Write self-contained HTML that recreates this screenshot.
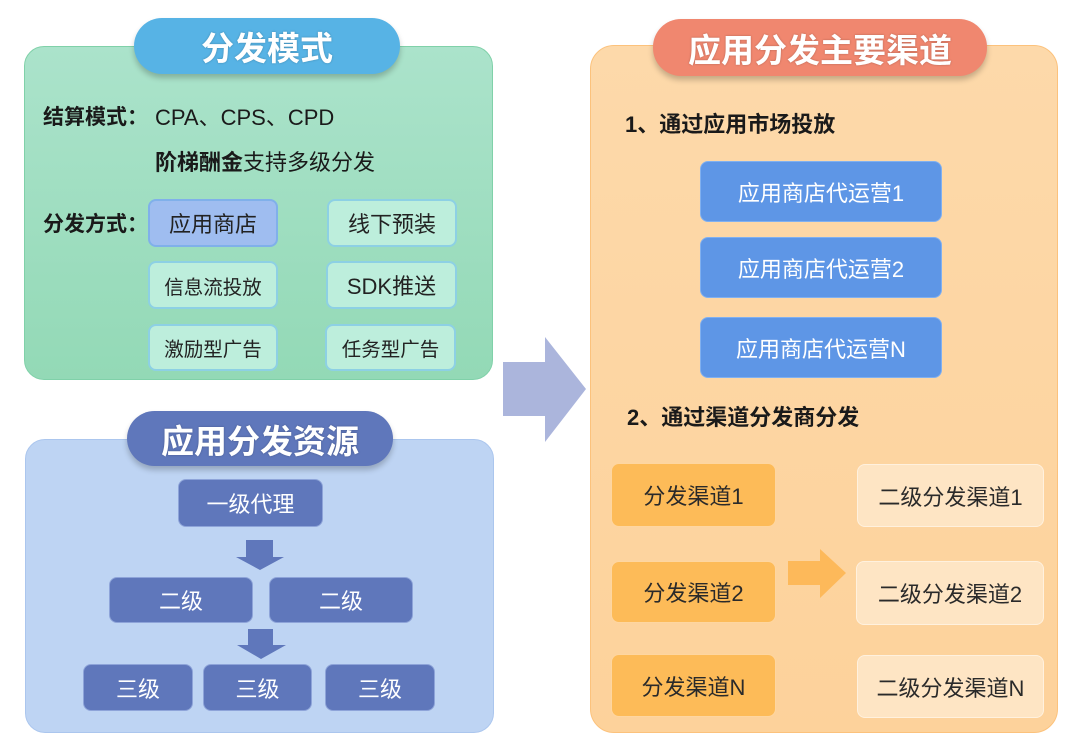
<!DOCTYPE html>
<html><head><meta charset="utf-8">
<style>
*{margin:0;padding:0;box-sizing:border-box;}
body{width:1080px;height:747px;background:#fff;position:relative;overflow:hidden;font-family:"Liberation Sans","Noto Sans CJK SC",sans-serif;}
.a{position:absolute;}
.box{position:absolute;display:flex;align-items:center;justify-content:center;border-radius:8px;white-space:nowrap;}
.pill{position:absolute;display:flex;align-items:center;justify-content:center;color:#fff;font-weight:bold;font-size:33px;box-shadow:0 4px 6px rgba(0,0,0,0.22);text-shadow:0 0 2px rgba(0,0,0,0.25);white-space:nowrap;}
.t{position:absolute;white-space:nowrap;color:#1a1a1a;}
.g{background:#bdeedc;border:2px solid #8dd0e4;color:#222;font-size:22px;}
.bl{background:#5f77bb;border:1.5px solid #8ea4d9;color:#fff;font-size:22px;}
.bb{background:#5e96e6;border:1.5px solid #80b0f0;color:#fff;font-size:22px;}
.ob{background:#fdbb58;border:1.5px solid #fed6a0;color:#2a2a2a;font-size:22px;}
.lb{background:#fee5c4;border:1.5px solid #fff1de;color:#2a2a2a;font-size:22px;}
</style></head><body>

<!-- Green panel -->
<div class="a" style="left:24px;top:46px;width:469px;height:334px;border-radius:20px;background:linear-gradient(#abe3cb,#93d9b6);border:1.5px solid #80d1a9;"></div>
<div class="pill" style="left:134px;top:18px;width:266px;height:56px;border-radius:28px;background:#57b3e5;">分发模式</div>
<div class="t" style="left:43px;top:105px;font-size:21px;line-height:26px;font-weight:bold;">结算模式：</div>
<div class="t" style="left:155px;top:104px;font-size:22px;line-height:28px;">CPA、CPS、CPD</div>
<div class="t" style="left:155px;top:149px;font-size:22px;line-height:28px;"><b>阶梯酬金</b>支持多级分发</div>
<div class="t" style="left:43px;top:212px;font-size:21px;line-height:26px;font-weight:bold;">分发方式：</div>
<div class="box g" style="left:148px;top:199px;width:130px;height:48px;background:#9fbdf0;border-color:#80b0ea;">应用商店</div>
<div class="box g" style="left:327px;top:199px;width:130px;height:48px;">线下预装</div>
<div class="box g" style="left:148px;top:261px;width:130px;height:48px;font-size:19.5px;">信息流投放</div>
<div class="box g" style="left:326px;top:261px;width:131px;height:48px;">SDK推送</div>
<div class="box g" style="left:148px;top:324px;width:130px;height:47px;font-size:19.5px;">激励型广告</div>
<div class="box g" style="left:325px;top:324px;width:131px;height:47px;font-size:19.5px;">任务型广告</div>

<!-- Blue panel -->
<div class="a" style="left:25px;top:439px;width:469px;height:294px;border-radius:20px;background:#bed4f3;border:1.5px solid #abc6ee;"></div>
<div class="pill" style="left:127px;top:411px;width:266px;height:55px;border-radius:28px;background:#5f77bb;">应用分发资源</div>
<div class="box bl" style="left:178px;top:479px;width:145px;height:48px;">一级代理</div>
<div class="box bl" style="left:109px;top:577px;width:144px;height:46px;">二级</div>
<div class="box bl" style="left:269px;top:577px;width:144px;height:46px;">二级</div>
<div class="box bl" style="left:83px;top:664px;width:110px;height:47px;">三级</div>
<div class="box bl" style="left:203px;top:664px;width:109px;height:47px;">三级</div>
<div class="box bl" style="left:325px;top:664px;width:110px;height:47px;">三级</div>

<!-- Orange panel -->
<div class="a" style="left:590px;top:45px;width:468px;height:688px;border-radius:24px;background:linear-gradient(#fdd9aa,#fdd29b);border:1.5px solid #fcc27c;"></div>
<div class="pill" style="left:653px;top:19px;width:334px;height:57px;border-radius:28px;background:#f0876f;">应用分发主要渠道</div>
<div class="t" style="left:625px;top:111px;font-size:22px;line-height:28px;font-weight:bold;">1、通过应用市场投放</div>
<div class="box bb" style="left:700px;top:161px;width:242px;height:61px;">应用商店代运营1</div>
<div class="box bb" style="left:700px;top:237px;width:242px;height:61px;">应用商店代运营2</div>
<div class="box bb" style="left:700px;top:317px;width:242px;height:61px;">应用商店代运营N</div>
<div class="t" style="left:627px;top:404px;font-size:22px;line-height:28px;font-weight:bold;">2、通过渠道分发商分发</div>
<div class="box ob" style="left:611px;top:463px;width:165px;height:64px;">分发渠道1</div>
<div class="box ob" style="left:611px;top:561px;width:165px;height:62px;">分发渠道2</div>
<div class="box ob" style="left:611px;top:654px;width:165px;height:63px;">分发渠道N</div>
<div class="box lb" style="left:857px;top:464px;width:187px;height:63px;">二级分发渠道1</div>
<div class="box lb" style="left:856px;top:561px;width:188px;height:64px;">二级分发渠道2</div>
<div class="box lb" style="left:857px;top:655px;width:187px;height:63px;">二级分发渠道N</div>

<!-- Arrows -->
<svg class="a" style="left:0;top:0;" width="1080" height="747" viewBox="0 0 1080 747">
  <polygon points="503,362 545,362 545,337 586,389 545,442 545,416 503,416" fill="#abb5dc"/>
  <polygon points="246,540 273,540 273,557 284,557 260,570 236,557 246,557" fill="#5f77bb"/>
  <polygon points="248,629 273,629 273,645 286,645 261,659 237,645 248,645" fill="#5f77bb"/>
  <polygon points="788,561 820,561 820,549 846,573 820,598 820,585 788,585" fill="#fdb95a"/>
</svg>

</body></html>
